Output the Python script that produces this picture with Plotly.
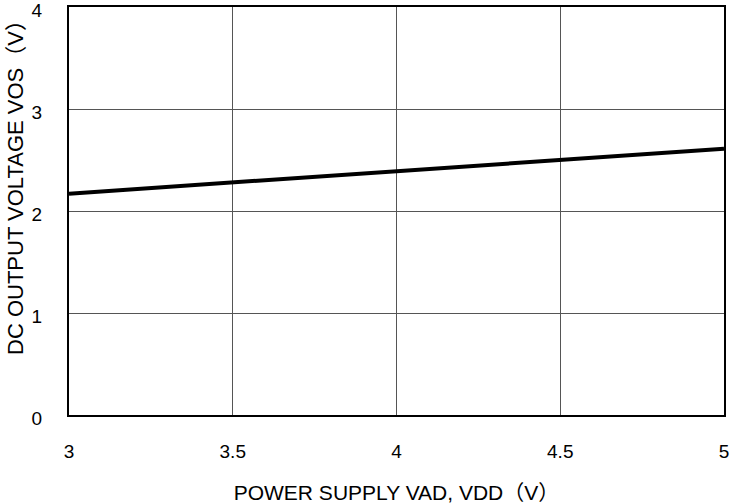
import plotly.graph_objects as go

vdd = [3.0, 3.5, 4.0, 4.5, 5.0]
vos = [2.17, 2.28, 2.39, 2.50, 2.61]
x_ticks = [3, 3.5, 4, 4.5, 5]
x_tick_labels = ["3", "3.5", "4", "4.5", "5"]
y_ticks = [0, 1, 2, 3, 4]
x_title = "POWER SUPPLY VAD, VDD（V）"
y_title = "DC OUTPUT VOLTAGE VOS（V）"

FONT = "Liberation Sans, Arial, Noto Sans CJK JP, sans-serif"

fig = go.Figure()
fig.add_trace(go.Scatter(x=vdd, y=vos, mode="lines",
                         line=dict(color="black", width=4), showlegend=False))

fig.update_layout(
    width=730, height=504,
    margin=dict(l=69, r=6, t=7, b=89),
    paper_bgcolor="white", plot_bgcolor="white",
    font=dict(family=FONT, size=19, color="black"),
)
fig.update_xaxes(
    range=[3, 5], tickvals=x_ticks, ticktext=x_tick_labels,
    showgrid=True, gridcolor="#555555", gridwidth=1,
    showline=True, linecolor="black", linewidth=2, mirror=True,
    ticks="", ticklabelstandoff=18, zeroline=False, automargin=False,
    ticklabeloverflow="allow",
    title=dict(text=x_title, font=dict(size=21), standoff=28),
)
fig.update_yaxes(
    range=[0, 4], tickvals=y_ticks,
    showgrid=True, gridcolor="#555555", gridwidth=1,
    showline=True, linecolor="black", linewidth=2, mirror=True,
    ticks="", ticklabelstandoff=21, ticklabelshift=3, zeroline=False, automargin=False,
    ticklabeloverflow="allow",
)
fig.add_annotation(
    text=y_title, textangle=-90, showarrow=False,
    xref="paper", yref="paper", x=0, y=(415 - 182) / 408,
    xanchor="center", yanchor="middle", xshift=-54,
    font=dict(family=FONT, size=22, color="black"),
)

fig.write_html("out.html", config={"displayModeBar": False},
               post_script="document.body.style.margin='0';document.body.style.padding='0';")
